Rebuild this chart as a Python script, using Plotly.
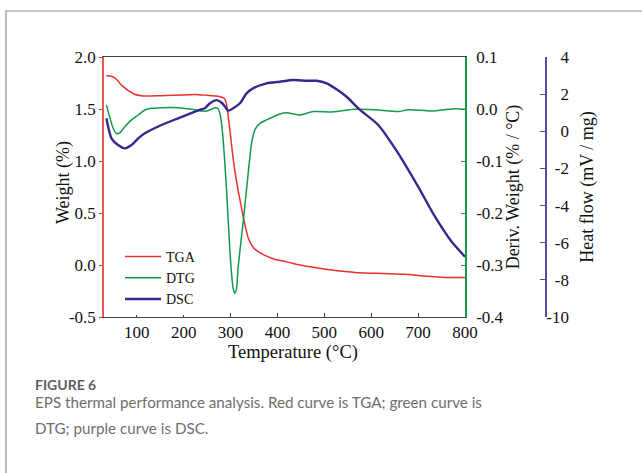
import plotly.graph_objects as go

# ---- data ----
tga_T = [35, 45, 53, 60, 67, 75, 81, 90, 96, 110, 120, 150, 200, 224, 250, 270, 280, 287,
         292, 295, 300, 305, 310, 316, 322, 327, 332, 337, 345, 355, 370, 385, 398, 420,
         448, 480, 519, 550, 576, 610, 640, 672, 710, 757, 800]
tga_w = [1.82, 1.815, 1.80, 1.77, 1.73, 1.70, 1.68, 1.655, 1.64, 1.628, 1.625, 1.628, 1.635,
         1.64, 1.632, 1.625, 1.615, 1.60, 1.53, 1.43, 1.24, 1.04, 0.88, 0.72, 0.58, 0.46,
         0.36, 0.27, 0.19, 0.14, 0.10, 0.07, 0.05, 0.03, 0.0, -0.025, -0.05, -0.065, -0.075,
         -0.08, -0.085, -0.09, -0.105, -0.12, -0.12]

dtg_T = [35, 42, 49.5, 56.7, 63.8, 74.4, 88.7, 103, 117, 131, 153, 188, 217, 238, 248.5, 260,
         267, 273, 277, 280.7, 284.2, 287.8, 291.4, 294.9, 298.5, 302, 305.6, 309.1, 312.7,
         316.2, 326.9, 337.5, 344.7, 351.8, 362.5, 376.7, 405.2, 419.4, 447.8, 476.3, 519,
         565, 608, 658, 679, 729, 779, 800]
dtg_v = [0.008, -0.015, -0.037, -0.047, -0.046, -0.034, -0.021, -0.0115, -0.002, 0.0013,
         0.0025, 0.0025, -0.0006, -0.004, -0.004, 0.0, 0.0025, 0.001, -0.008, -0.0276,
         -0.0596, -0.1045, -0.156, -0.2135, -0.271, -0.316, -0.345, -0.3545, -0.345, -0.303,
         -0.217, -0.124, -0.066, -0.040, -0.0275, -0.021, -0.0096, -0.007, -0.0115, -0.005,
         -0.0055, -0.0006, -0.0013, -0.005, -0.0013, -0.0038, 0.0006, -0.0006]

dsc_T = [35.3, 38.8, 46, 60, 74.4, 88.7, 103, 117, 152.7, 188, 224, 234, 245, 256, 270, 281,
         288, 295, 305.5, 320, 334, 348, 376.6, 405, 433.6, 462, 483.5, 505, 526, 547.5,
         565, 576, 615, 657.6, 700, 736, 771.6, 800]
dsc_h = [0.70, 0.25, -0.38, -0.74, -0.92, -0.74, -0.38, -0.11, 0.34, 0.70, 1.06, 1.15, 1.24,
         1.51, 1.68, 1.54, 1.33, 1.11, 1.24, 1.51, 2.04, 2.31, 2.58, 2.67, 2.76, 2.72, 2.72,
         2.58, 2.26, 1.86, 1.42, 1.15, 0.34, -1.19, -2.98, -4.60, -5.95, -6.75]

x_ticks = [100, 200, 300, 400, 500, 600, 700, 800]
w_ticks = [-0.5, 0.0, 0.5, 1.0, 1.5, 2.0]
d_ticks = [-0.4, -0.3, -0.2, -0.1, 0.0, 0.1]
h_ticks = [-10, -8, -6, -4, -2, 0, 2, 4]

RED = "#e8322c"
GREEN = "#13994a"
PURPLE = "#3a278c"
PURPLE_AX = "#5a4a9c"
SERIF = "Liberation Serif"

W, H = 642, 473
L, R, T, B = 104, 30, 57, 156
PW = W - L - R  # 508
PH = H - T - B  # 260


def px(x):
    return (x - L) / PW


def py(y):
    return (H - B - y) / PH


fig = go.Figure()
fig.add_trace(go.Scatter(x=tga_T, y=tga_w, name="TGA", mode="lines",
                         line=dict(color=RED, width=1.5, shape="spline", smoothing=0.6),
                         yaxis="y"))
fig.add_trace(go.Scatter(x=dtg_T, y=dtg_v, name="DTG", mode="lines",
                         line=dict(color=GREEN, width=1.5, shape="spline", smoothing=0.6),
                         yaxis="y2"))
fig.add_trace(go.Scatter(x=dsc_T, y=dsc_h, name="DSC", mode="lines",
                         line=dict(color=PURPLE, width=2.4, shape="spline", smoothing=0.6),
                         yaxis="y3"))
# invisible companion so the label-only heat-flow axis is drawn
fig.add_trace(go.Scatter(x=dsc_T, y=dsc_h, mode="lines", line=dict(width=0),
                         opacity=0, showlegend=False, hoverinfo="skip", yaxis="y4"))

tickfont = dict(family=SERIF, size=17, color="#111")
titlefont = dict(family=SERIF, size=18, color="#111")

fig.update_layout(
    width=W, height=H,
    margin=dict(l=L, r=R, t=T, b=B, pad=0),
    paper_bgcolor="white", plot_bgcolor="white",
    showlegend=True,
    legend=dict(x=px(120), y=py(241), xanchor="left", yanchor="top",
                font=dict(family=SERIF, size=14, color="#111"),
                bgcolor="white", borderwidth=0, itemwidth=36,
                tracegroupgap=0),
    xaxis=dict(domain=[0, (465 - L) / PW], range=[30, 800], tickvals=x_ticks,
               ticktext=[str(v) for v in x_ticks],
               ticks="inside", ticklen=4, tickcolor="#444", showline=True,
               linecolor="#444", linewidth=1, mirror=True, showgrid=False,
               zeroline=False, tickfont=tickfont),
    yaxis=dict(range=[-0.5, 2.0], tickvals=w_ticks,
               ticktext=[f"{v:.1f}" for v in w_ticks],
               ticks="outside", ticklen=3, tickcolor=RED, showline=True,
               linecolor="#ee5555", linewidth=1.5, showgrid=False, zeroline=False,
               tickfont=tickfont),
    yaxis2=dict(range=[-0.4, 0.1], tickvals=d_ticks,
                ticktext=[f"{v:.1f}" for v in d_ticks],
                overlaying="y", side="right", anchor="x",
                ticks="inside", ticklen=4, tickcolor=GREEN, showline=True,
                linecolor=GREEN, linewidth=1.5, showgrid=False, zeroline=False,
                tickfont=tickfont, ticklabelstandoff=6,
                title=dict(text="Deriv. Weight (% / °C)", font=titlefont, standoff=4)),
    yaxis3=dict(range=[-10, 4], tickvals=h_ticks, overlaying="y", side="right",
                anchor="free", position=px(546),
                ticks="inside", ticklen=5, tickcolor=PURPLE_AX, showline=True,
                linecolor=PURPLE_AX, linewidth=1.5, showgrid=False, zeroline=False,
                showticklabels=False,
                title=dict(text="Heat flow (mV / mg)", font=titlefont, standoff=34)),
    yaxis4=dict(range=[-10, 4], tickvals=h_ticks, ticktext=[str(v) for v in h_ticks],
                overlaying="y", side="left",
                anchor="free", position=px(569),
                ticks="", showline=False, showgrid=False, zeroline=False,
                tickfont=tickfont, ticklabelstandoff=0),
)

# axis titles placed to match the reference
fig.add_annotation(xref="paper", yref="paper", x=px(63), y=py(183),
                   xanchor="center", yanchor="middle", showarrow=False,
                   textangle=-90, text="Weight (%)", font=titlefont)
fig.add_annotation(xref="paper", yref="paper", x=px(293), y=py(352),
                   xanchor="center", yanchor="middle", showarrow=False,
                   text="Temperature (°C)", font=dict(family=SERIF, size=18.5, color="#111"))

# card border
fig.add_shape(type="rect", xref="paper", yref="paper",
              x0=px(6), x1=px(700), y0=py(520), y1=py(11),
              line=dict(color="#8f8f8f", width=1.2), fillcolor="rgba(0,0,0,0)",
              layer="below")

CAP = "Lato"
fig.add_annotation(xref="paper", yref="paper", x=px(33), y=py(384),
                   xanchor="left", yanchor="middle", showarrow=False,
                   text="<b>FIGURE 6</b>",
                   font=dict(family=CAP, size=14, color="#5e5e5e"))
fig.add_annotation(xref="paper", yref="paper", x=px(33), y=py(402),
                   xanchor="left", yanchor="middle", showarrow=False,
                   text="EPS thermal performance analysis. Red curve is TGA; green curve is",
                   font=dict(family=CAP, size=15.2, color="#6e6e6e"))
fig.add_annotation(xref="paper", yref="paper", x=px(33), y=py(428),
                   xanchor="left", yanchor="middle", showarrow=False,
                   text="DTG; purple curve is DSC.",
                   font=dict(family=CAP, size=15.2, color="#6e6e6e"))

fig.write_html("out.html")
